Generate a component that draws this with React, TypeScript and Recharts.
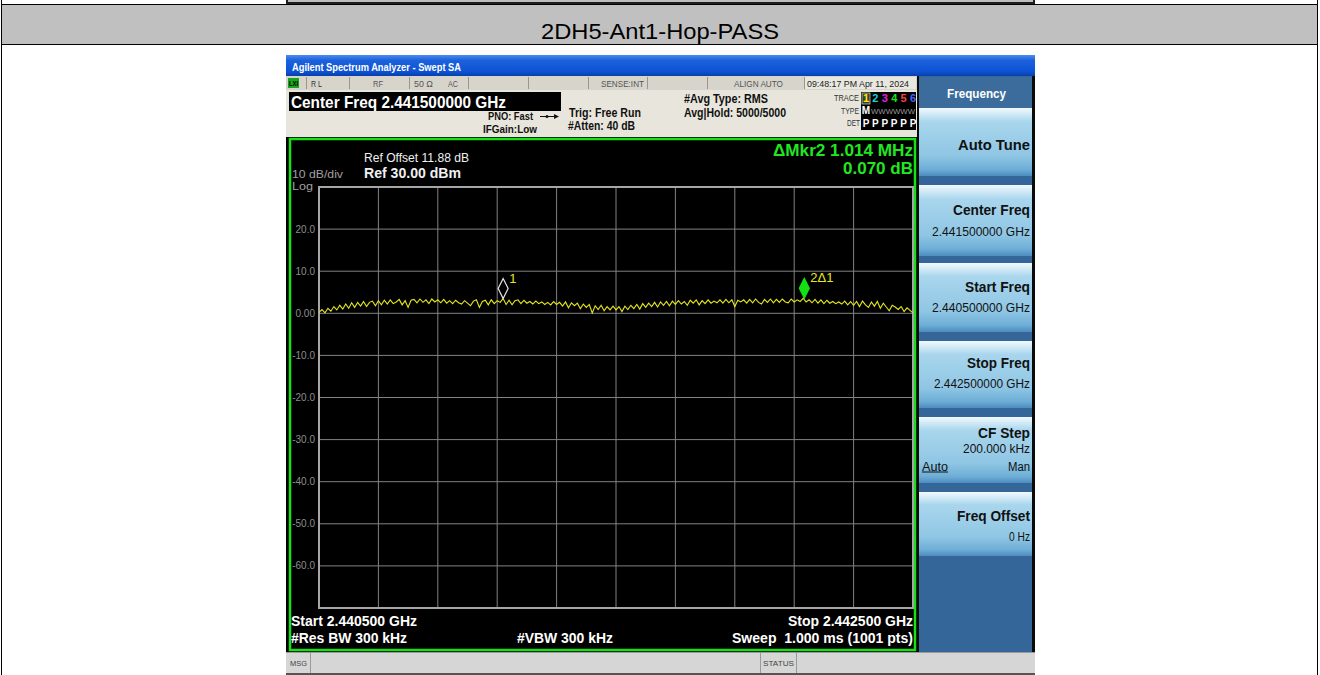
import React from 'react';
import { LineChart, Line, XAxis, YAxis, CartesianGrid, ReferenceDot, ReferenceArea } from 'recharts';

const FONT = "'Liberation Sans', Arial, Helvetica, sans-serif";

// ---- data ----
const START_MHZ = 2440.5;
const STOP_MHZ = 2442.5;
const POINT_STEP_MHZ = 0.01;
const FREQ_TICKS_MHZ = [2440.5, 2440.7, 2440.9, 2441.1, 2441.3, 2441.5, 2441.7, 2441.9, 2442.1, 2442.3, 2442.5];
const LEVEL_TICKS_DBM = [30, 20, 10, 0, -10, -20, -30, -40, -50, -60, -70];
const TRACE_DBM = [
  0.2, 0.9, 0.1, 1.2, 0.5, 1.6, 0.8, 1.9, 1.0, 2.2, 1.2, 2.5, 1.4, 2.6, 1.7, 2.8, 1.6, 2.6, 2.9, 1.8,
  3.0, 2.0, 3.1, 2.2, 3.2, 2.3, 2.7, 3.3, 2.0, 3.0, 1.4, 3.1, 3.3, 2.5, 3.4, 2.6, 3.2, 2.3, 3.4, 2.7,
  3.2, 2.5, 3.3, 2.4, 3.0, 2.3, 3.1, 2.5, 2.2, 3.0, 2.4, 1.8, 2.9, 3.2, 1.4, 2.8, 3.1, 2.0, 3.2, 2.3,
  3.0, 2.6, 3.5, 2.1, 3.1, 2.0, 3.0, 3.2, 2.3, 3.1, 2.4, 2.8, 2.2, 2.9, 2.3, 2.7, 2.1, 2.6, 2.0, 2.8,
  2.1, 2.6, 1.7, 2.7, 1.3, 2.5, 1.8, 2.4, 1.1, 2.2, 1.4, 2.1, 0.1, 1.8, 0.9, 1.9, 0.6, 1.6, 0.8, 1.7,
  0.8, 1.6, 0.4, 1.7, 0.9, 1.9, 1.1, 2.1, 1.0, 2.3, 1.4, 2.4, 1.6, 2.6, 1.5, 2.7, 1.9, 2.8, 1.8, 2.9,
  2.1, 3.0, 2.2, 2.8, 1.9, 3.1, 2.4, 3.2, 2.0, 3.0, 2.3, 3.2, 2.4, 2.9, 2.5, 3.2, 2.4, 3.3, 2.5, 3.2,
  1.6, 3.1, 2.7, 3.2, 2.4, 3.3, 2.5, 3.4, 2.6, 2.2, 3.3, 2.6, 3.4, 2.5, 3.3, 2.6, 3.4, 2.7, 2.5, 3.4,
  2.7, 3.2, 2.8, 3.57, 2.7, 3.2, 2.5, 3.3, 2.4, 3.2, 2.3, 3.1, 2.4, 2.8, 2.3, 2.7, 2.2, 2.9, 2.0, 2.8,
  1.9, 2.8, 1.6, 2.9, 2.0, 1.4, 2.7, 1.7, 2.8, 1.2, 2.4, 1.5, 0.6, 1.9, 1.5, 0.9, 1.6, 0.4, 1.3, 0.7,
  0.1,
];
const MARKER_FREQ_MHZ = [2441.12, 2442.134];
const MARKER_LEVEL_DBM = [3.5, 3.57];
const MARKER_LABELS = ['1', '2\u03941'];

const traceData = TRACE_DBM.map((v, i) => ({ f: +(START_MHZ + i * POINT_STEP_MHZ).toFixed(3), v }));

// ---- helpers ----
function Txt(props: any) {
  const { x, cy, w, size, bold, color, anchor = 'start', children, deco } = props;
  return (
    <text
      x={x}
      y={cy + size * 0.358}
      fontSize={size}
      fontWeight={bold ? 700 : 400}
      fill={color}
      textAnchor={anchor}
      textLength={w}
      lengthAdjust="spacingAndGlyphs"
      fontFamily={FONT}
      textDecoration={deco}
    >
      {children}
    </text>
  );
}

const EmptyTick = () => <g />;

const LevelTick = (props: any) => {
  const { x, y, payload } = props;
  const v = payload.value;
  if (v === 30 || v === -70) return <g />;
  const label = v === 0 ? '0.00' : v.toFixed(1);
  return (
    <text x={x} y={y} dy="0.355em" textAnchor="end" fontSize={10} fill="#8e8e8e" fontFamily={FONT}>
      {label}
    </text>
  );
};

const makeMarker = (idx: number) => (props: any) => {
  const { cx, cy } = props;
  const w = 5;
  const h = 20;
  const d = `M${cx},${cy} L${cx + w},${cy - h / 2} L${cx},${cy - h} L${cx - w},${cy - h / 2} Z`;
  const filled = idx === 1;
  return (
    <g>
      <path d={d} fill={filled ? '#14e014' : '#000'} stroke={filled ? '#14e014' : '#e6e6e6'} strokeWidth={1.2} />
      <text x={cx + 6} y={cy - 16} fontSize={13} fill="#e6e61e" fontFamily={FONT}>
        {MARKER_LABELS[idx]}
      </text>
    </g>
  );
};

const BUTTONS = [
  [108, 176],
  [185, 256],
  [263, 332],
  [341, 408],
  [417, 483],
  [492, 556],
];

function Chrome() {
  return (
    <svg width={1320} height={675} style={{ position: 'absolute', left: 0, top: 0 }}>
      <defs>
        <linearGradient id="titleBar" x1="0" y1="0" x2="0" y2="1">
          <stop offset="0" stopColor="#4a8ef2" />
          <stop offset="0.25" stopColor="#1d62dc" />
          <stop offset="0.8" stopColor="#0c52d4" />
          <stop offset="1" stopColor="#0a3fa8" />
        </linearGradient>
        <linearGradient id="btn" x1="0" y1="0" x2="0" y2="1">
          <stop offset="0" stopColor="#f2f9fd" />
          <stop offset="0.1" stopColor="#cde8f5" />
          <stop offset="0.2" stopColor="#a9d6ed" />
          <stop offset="0.7" stopColor="#8fc6e4" />
          <stop offset="0.9" stopColor="#6eaed6" />
          <stop offset="1" stopColor="#4d8cc0" />
        </linearGradient>
      </defs>
      <rect x={0} y={0} width={1320} height={675} fill="#ffffff" />
      {/* previous screenshot bottom */}
      <rect x={286} y={0} width={749} height={4} fill="#1e1e1e" />
      <rect x={288} y={0} width={745} height={2} fill="#bdbdbd" />
      {/* title row */}
      <rect x={1.5} y={4.5} width={1316} height={40} fill="#c0c0c0" stroke="#000" strokeWidth={1} />
      <Txt x={541} cy={31} w={238} size={22} color="#000">2DH5-Ant1-Hop-PASS</Txt>
      <line x1={1.5} y1={0} x2={1.5} y2={675} stroke="#000" strokeWidth={1} />
      <line x1={1317.5} y1={0} x2={1317.5} y2={675} stroke="#000" strokeWidth={1} />

      {/* screenshot */}
      <rect x={286} y={55} width={749} height={620} fill="#0a0a0a" />
      <rect x={286} y={55} width={749} height={21} fill="url(#titleBar)" />
      <Txt x={292} cy={67.5} w={169} size={11} bold color="#ffffff">Agilent Spectrum Analyzer - Swept SA</Txt>

      {/* status row */}
      <rect x={286} y={76} width={631} height={14} fill="#d7d4cc" />
      <rect x={288} y={78} width={11} height={10} fill="#1aa51a" />
      <Txt x={289} cy={83} w={9} size={7} bold color="#000">LXI</Txt>
      {[306, 349, 409, 468, 528, 588, 647, 707, 804].map((sx) => (
        <line key={sx} x1={sx + 0.5} y1={77} x2={sx + 0.5} y2={89} stroke="#9a968e" strokeWidth={1} />
      ))}
      <rect x={805} y={77} width={111} height={12} fill="#e9e7e0" />
      <Txt x={311} cy={83.5} w={11} size={9} color="#333">R L</Txt>
      <Txt x={373} cy={83.5} w={10} size={9} color="#555">RF</Txt>
      <Txt x={414} cy={83.5} w={19} size={9} color="#555">50 Ω</Txt>
      <Txt x={448} cy={83.5} w={10} size={9} color="#555">AC</Txt>
      <Txt x={601} cy={83.5} w={43} size={9} color="#555">SENSE:INT</Txt>
      <Txt x={734} cy={83.5} w={49} size={9} color="#555">ALIGN AUTO</Txt>
      <Txt x={807} cy={83.5} w={102} size={9} color="#222">09:48:17 PM Apr 11, 2024</Txt>

      {/* beige measurement bar */}
      <rect x={286} y={90} width={631} height={47} fill="#e8e6dc" />
      <rect x={289} y={92} width={272} height={19} fill="#000" />
      <Txt x={291} cy={101.7} w={215} size={17} bold color="#ffffff">Center Freq 2.441500000 GHz</Txt>
      <Txt x={488} cy={116.5} w={45} size={11} bold color="#111">PNO: Fast</Txt>
      <line x1={540} y1={116.5} x2={556} y2={116.5} stroke="#111" strokeWidth={1} />
      <circle cx={547} cy={116.5} r={1.5} fill="#111" />
      <path d="M559,116.5 L554,114 L554,119 Z" fill="#111" />
      <Txt x={483} cy={129} w={54} size={11} bold color="#111">IFGain:Low</Txt>
      <Txt x={569} cy={112.3} w={72} size={12} bold color="#111">Trig: Free Run</Txt>
      <Txt x={568} cy={126} w={67} size={12} bold color="#111">#Atten: 40 dB</Txt>
      <Txt x={684} cy={98.3} w={84} size={12} bold color="#111">#Avg Type: RMS</Txt>
      <Txt x={684} cy={112.3} w={102} size={12} bold color="#111">Avg|Hold: 5000/5000</Txt>
      <Txt x={834} cy={98.3} w={25} size={8.5} color="#333">TRACE</Txt>
      <Txt x={841} cy={110.7} w={18} size={8.5} color="#333">TYPE</Txt>
      <Txt x={847} cy={123.3} w={13} size={8.5} color="#333">DET</Txt>
      <rect x={861} y={92} width={55} height={38} fill="#000" />
      <rect x={862} y={93} width={8} height={11} fill="#3a3a3a" stroke="#c8c890" strokeWidth={0.8} />
      {[
        ['1', '#f0f000'],
        ['2', '#1ed0d0'],
        ['3', '#e020e0'],
        ['4', '#20e020'],
        ['5', '#ff4040'],
        ['6', '#4a5cff'],
      ].map(([d, c], i) => (
        <text key={d} x={866 + i * 9.4} y={102.3} fontSize={11} fontWeight={700} fill={c} textAnchor="middle" fontFamily={FONT}>
          {d}
        </text>
      ))}
      <text x={866} y={114.3} fontSize={10} fontWeight={700} fill="#fff" textAnchor="middle" fontFamily={FONT}>M</text>
      <Txt x={871} cy={110.7} w={44} size={8} color="#9a9a9a">WWWWWW</Txt>
      {[0, 1, 2, 3, 4, 5].map((i) => (
        <text key={i} x={866 + i * 9.4} y={127} fontSize={10} fontWeight={700} fill="#fff" textAnchor="middle" fontFamily={FONT}>
          P
        </text>
      ))}

      {/* graph area */}
      <rect x={286} y={137} width={631} height={515} fill="#000" />
      <rect x={290} y={139} width={625} height={511} fill="none" stroke="#18e018" strokeWidth={2.5} />
      <Txt x={364} cy={158} w={105} size={12} color="#f0f0f0">Ref Offset 11.88 dB</Txt>
      <Txt x={364} cy={173} w={97} size={15} bold color="#f0f0f0">Ref 30.00 dBm</Txt>
      <Txt x={292} cy={174} w={51} size={11} color="#a0a0a0">10 dB/div</Txt>
      <Txt x={292} cy={186.5} w={21} size={10} color="#a0a0a0">Log</Txt>
      <Txt x={913} cy={150} w={140} size={17} bold color="#22e622" anchor="end">ΔMkr2 1.014 MHz</Txt>
      <Txt x={913} cy={168.3} w={70} size={17} bold color="#22e622" anchor="end">0.070 dB</Txt>
      <Txt x={291} cy={621} w={126} size={14} bold color="#ffffff">Start 2.440500 GHz</Txt>
      <Txt x={291} cy={638} w={116} size={14} bold color="#ffffff">#Res BW 300 kHz</Txt>
      <Txt x={517} cy={638} w={96} size={14} bold color="#ffffff">#VBW 300 kHz</Txt>
      <Txt x={913} cy={621} w={125} size={14} bold color="#ffffff" anchor="end">Stop 2.442500 GHz</Txt>
      <Txt x={913} cy={638} w={181} size={14} bold color="#ffffff" anchor="end">{'Sweep\u00a0\u00a01.000 ms (1001 pts)'}</Txt>

      {/* soft keys */}
      <rect x={919} y={76} width={113} height={576} fill="#34669a" />
      <rect x={919} y={77} width={113} height={31} fill="#3c6c9c" />
      <Txt x={947} cy={93.3} w={59} size={13} bold color="#ffffff">Frequency</Txt>
      {BUTTONS.map(([t, b]) => (
        <rect key={t} x={919} y={t} width={113} height={b - t} fill="url(#btn)" />
      ))}
      <Txt x={1030} cy={145} w={72} size={14} bold color="#111" anchor="end">Auto Tune</Txt>
      <Txt x={1030} cy={210} w={77} size={14} bold color="#111" anchor="end">Center Freq</Txt>
      <Txt x={1030} cy={231.7} w={98} size={12} color="#111" anchor="end">2.441500000 GHz</Txt>
      <Txt x={1030} cy={286.7} w={65} size={14} bold color="#111" anchor="end">Start Freq</Txt>
      <Txt x={1030} cy={308} w={98} size={12} color="#111" anchor="end">2.440500000 GHz</Txt>
      <Txt x={1030} cy={362.7} w={63} size={14} bold color="#111" anchor="end">Stop Freq</Txt>
      <Txt x={1030} cy={383.5} w={96} size={12} color="#111" anchor="end">2.442500000 GHz</Txt>
      <Txt x={1030} cy={433} w={52} size={14} bold color="#111" anchor="end">CF Step</Txt>
      <Txt x={1030} cy={449} w={67} size={12} color="#111" anchor="end">200.000 kHz</Txt>
      <Txt x={922} cy={466.5} w={26} size={12} color="#111">Auto</Txt>
      <line x1={922} y1={472} x2={948} y2={472} stroke="#111" strokeWidth={1} />
      <Txt x={1030} cy={466.5} w={22} size={12} color="#111" anchor="end">Man</Txt>
      <Txt x={1030} cy={515.7} w={73} size={14} bold color="#111" anchor="end">Freq Offset</Txt>
      <Txt x={1030} cy={537} w={21} size={12} color="#111" anchor="end">0 Hz</Txt>

      {/* message bar */}
      <rect x={286} y={652} width={749} height={21} fill="#d6d6d6" />
      <line x1={286} y1={652.5} x2={1035} y2={652.5} stroke="#9a9a9a" strokeWidth={1} />
      <line x1={310.5} y1={653} x2={310.5} y2={673} stroke="#9a9a9a" strokeWidth={1} />
      <line x1={760.5} y1={653} x2={760.5} y2={673} stroke="#9a9a9a" strokeWidth={1} />
      <line x1={796.5} y1={653} x2={796.5} y2={673} stroke="#9a9a9a" strokeWidth={1} />
      <Txt x={290} cy={663} w={17} size={8} color="#444">MSG</Txt>
      <Txt x={763} cy={663} w={31} size={8} color="#444">STATUS</Txt>
      <rect x={286} y={673} width={749} height={2} fill="#555" />
    </svg>
  );
}

export default function App() {
  return (
    <div style={{ position: 'absolute', left: 0, top: 0, width: 1320, height: 675, overflow: 'hidden', background: '#fff' }}>
      <Chrome />
      <div style={{ position: 'absolute', left: 286, top: 137, width: 631, height: 515 }}>
        <LineChart width={631} height={515} data={traceData} margin={{ top: 50, right: 4, bottom: 43, left: 0 }}>
          <CartesianGrid stroke="#828282" strokeWidth={1} vertical horizontal />
          <XAxis
            type="number"
            dataKey="f"
            domain={[START_MHZ, STOP_MHZ]}
            ticks={FREQ_TICKS_MHZ}
            tick={<EmptyTick />}
            tickLine={false}
            axisLine={false}
            height={1}
            interval={0}
            allowDataOverflow
          />
          <YAxis
            type="number"
            domain={[-70, 30]}
            ticks={LEVEL_TICKS_DBM}
            tick={<LevelTick />}
            tickLine={false}
            axisLine={false}
            tickSize={0}
            tickMargin={4}
            width={33}
            interval={0}
            allowDataOverflow
          />
          <ReferenceArea
            x1={START_MHZ}
            x2={STOP_MHZ}
            y1={-70}
            y2={30}
            fill="#000"
            fillOpacity={0}
            stroke="#a6a6a6"
            strokeWidth={2}
            ifOverflow="visible"
          />
          <Line
            type="linear"
            dataKey="v"
            stroke="#e6e61e"
            strokeWidth={1.1}
            dot={false}
            activeDot={false}
            isAnimationActive={false}
          />
          {MARKER_FREQ_MHZ.map((f, i) => (
            <ReferenceDot key={i} x={f} y={MARKER_LEVEL_DBM[i]} r={5} shape={makeMarker(i)} ifOverflow="visible" />
          ))}
        </LineChart>
      </div>
    </div>
  );
}
